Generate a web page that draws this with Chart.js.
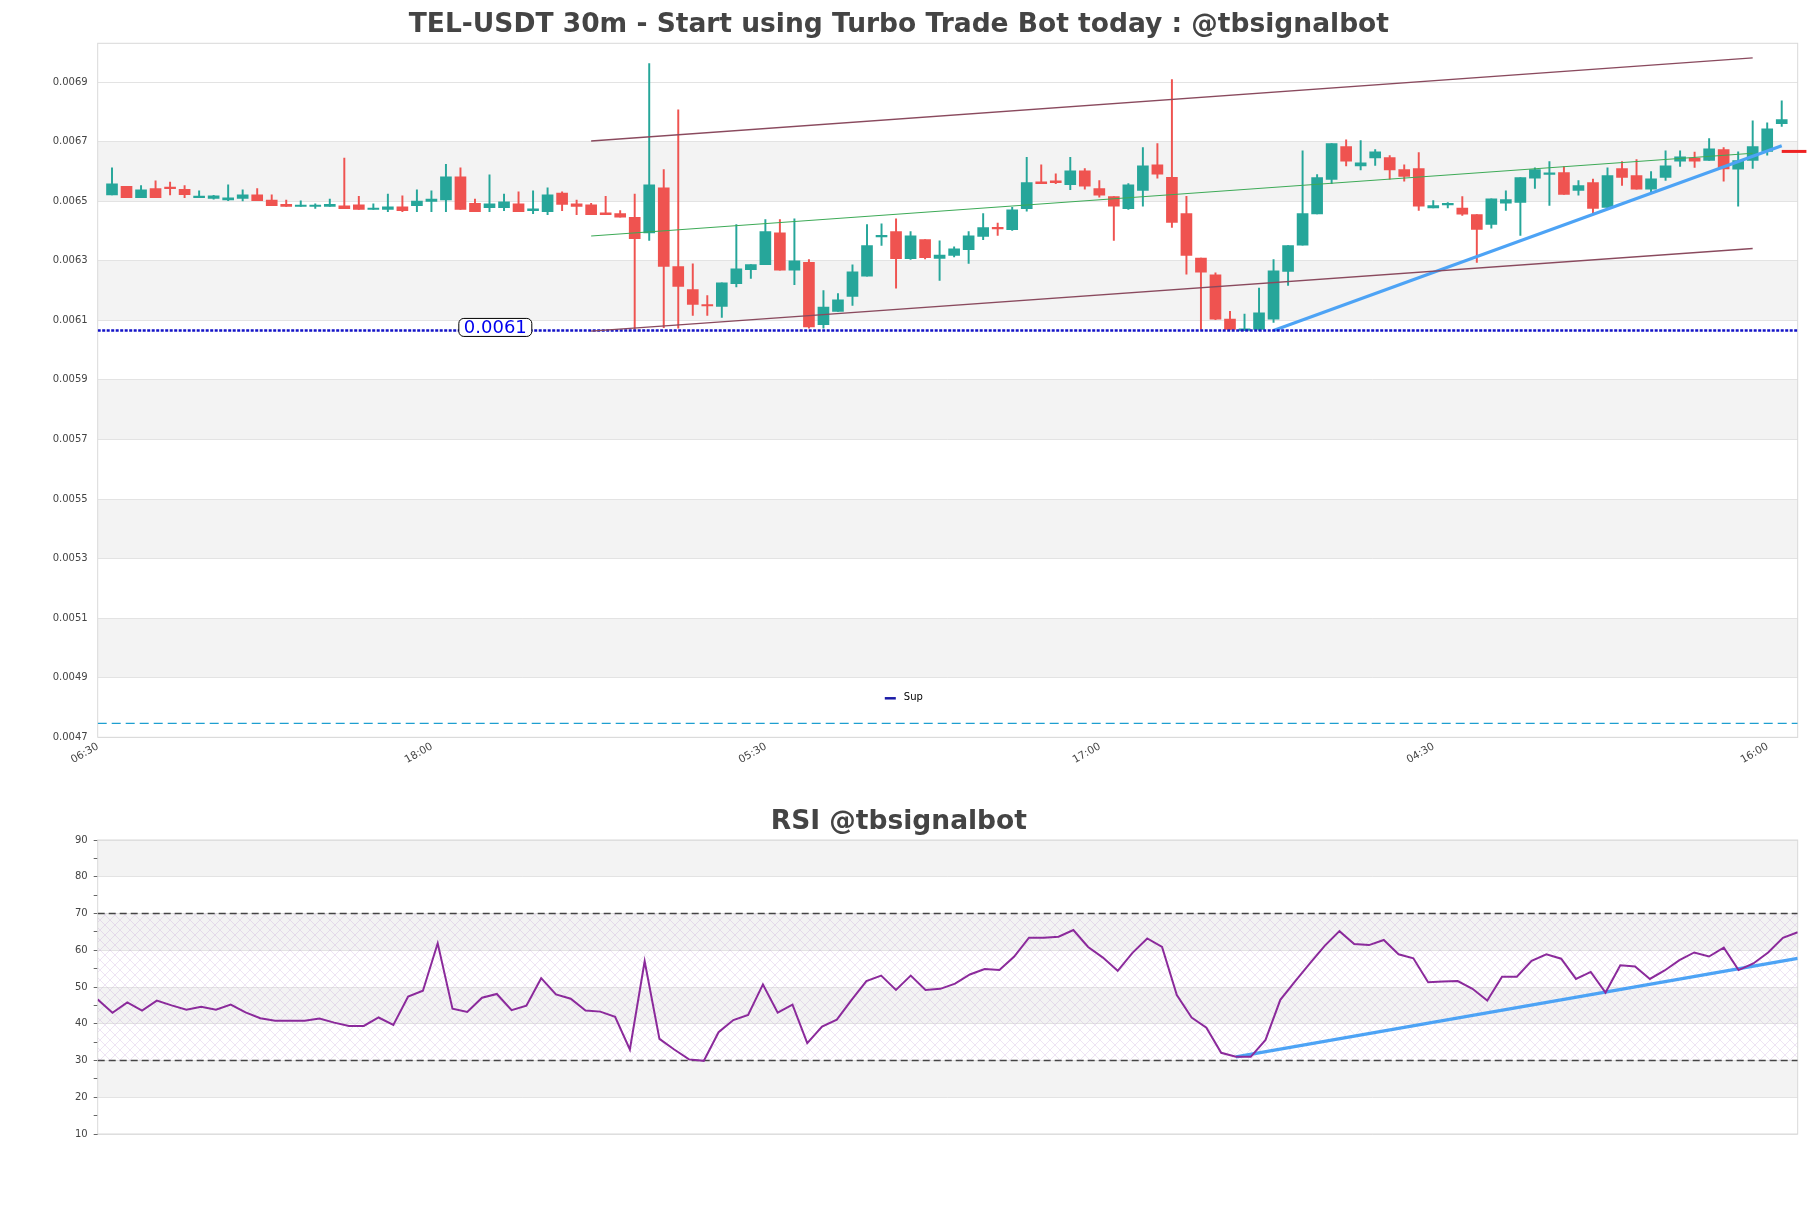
<!DOCTYPE html>
<html>
<head>
<meta charset="utf-8">
<script src="https://cdn.jsdelivr.net/npm/chart.js@4.4.1/dist/chart.umd.min.js"></script>
<style>
  html, body { margin: 0; padding: 0; background: #fff; }
  #wrap { position: relative; width: 1811px; height: 1208px; }
  #priceBox { position: absolute; left: 0; top: 0; width: 1811px; height: 800px; }
  #rsiBox { position: absolute; left: 0; top: 800px; width: 1811px; height: 408px; }
</style>
</head>
<body>
<div id="wrap">
  <div id="priceBox"><canvas id="priceChart"></canvas></div>
  <div id="rsiBox"><canvas id="rsiChart"></canvas></div>
</div>
<script>
// 30m candles
const opens = [
  0.006521, 0.006550, 0.006512, 0.006542, 0.006545, 0.006540, 0.006512, 0.006509, 0.006504, 0.006509,
  0.006521, 0.006504, 0.006489, 0.006482, 0.006482, 0.006482, 0.006484, 0.006488, 0.006472, 0.006472,
  0.006481, 0.006485, 0.006499, 0.006504, 0.006582, 0.006493, 0.006478, 0.006478, 0.006491, 0.006468,
  0.006465, 0.006527, 0.006491, 0.006488, 0.006461, 0.006458, 0.006446, 0.006393, 0.006545, 0.006280,
  0.006203, 0.006153, 0.006147, 0.006223, 0.006270, 0.006287, 0.006394, 0.006268, 0.006295, 0.006085,
  0.006130, 0.006180, 0.006248, 0.006380, 0.006398, 0.006307, 0.006371, 0.006308, 0.006318, 0.006337,
  0.006382, 0.006409, 0.006404, 0.006475, 0.006565, 0.006568, 0.006555, 0.006602, 0.006542, 0.006515,
  0.006475, 0.006536, 0.006622, 0.006580, 0.006458, 0.006309, 0.006253, 0.006104, 0.006066, 0.006069,
  0.006104, 0.006264, 0.006352, 0.006457, 0.006573, 0.006683, 0.006618, 0.006645, 0.006646, 0.006606,
  0.006609, 0.006477, 0.006487, 0.006477, 0.006455, 0.006422, 0.006493, 0.006496, 0.006577, 0.006590,
  0.006596, 0.006536, 0.006562, 0.006479, 0.006609, 0.006586, 0.006540, 0.006580, 0.006634, 0.006645,
  0.006637, 0.006673, 0.006607, 0.006637, 0.006667, 0.006760
];
const highs = [
  0.006612, 0.006550, 0.006552, 0.006568, 0.006564, 0.006552, 0.006535, 0.006520, 0.006555, 0.006538,
  0.006542, 0.006521, 0.006504, 0.006501, 0.006491, 0.006507, 0.006645, 0.006516, 0.006491, 0.006524,
  0.006518, 0.006538, 0.006535, 0.006624, 0.006612, 0.006507, 0.006588, 0.006524, 0.006531, 0.006535,
  0.006545, 0.006531, 0.006504, 0.006493, 0.006516, 0.006468, 0.006524, 0.006962, 0.006606, 0.006807,
  0.006290, 0.006183, 0.006226, 0.006421, 0.006287, 0.006438, 0.006438, 0.006441, 0.006304, 0.006200,
  0.006190, 0.006286, 0.006421, 0.006424, 0.006441, 0.006398, 0.006371, 0.006367, 0.006347, 0.006398,
  0.006458, 0.006426, 0.006479, 0.006647, 0.006622, 0.006592, 0.006647, 0.006609, 0.006569, 0.006515,
  0.006559, 0.006680, 0.006693, 0.006908, 0.006516, 0.006309, 0.006259, 0.006130, 0.006121, 0.006208,
  0.006304, 0.006351, 0.006669, 0.006589, 0.006693, 0.006706, 0.006703, 0.006673, 0.006653, 0.006622,
  0.006663, 0.006502, 0.006495, 0.006515, 0.006455, 0.006508, 0.006535, 0.006579, 0.006612, 0.006633,
  0.006616, 0.006569, 0.006574, 0.006612, 0.006633, 0.006640, 0.006599, 0.006669, 0.006669, 0.006665,
  0.006710, 0.006680, 0.006666, 0.006770, 0.006763, 0.006837
];
const lows = [
  0.006521, 0.006512, 0.006512, 0.006512, 0.006521, 0.006512, 0.006512, 0.006507, 0.006502, 0.006501,
  0.006502, 0.006485, 0.006482, 0.006482, 0.006476, 0.006482, 0.006475, 0.006472, 0.006472, 0.006465,
  0.006465, 0.006465, 0.006465, 0.006465, 0.006472, 0.006465, 0.006465, 0.006468, 0.006465, 0.006458,
  0.006455, 0.006468, 0.006455, 0.006455, 0.006455, 0.006446, 0.006070, 0.006368, 0.006075, 0.006074,
  0.006116, 0.006116, 0.006110, 0.006212, 0.006241, 0.006287, 0.006268, 0.006220, 0.006074, 0.006074,
  0.006130, 0.006150, 0.006248, 0.006351, 0.006208, 0.006304, 0.006306, 0.006234, 0.006313, 0.006291,
  0.006371, 0.006385, 0.006402, 0.006466, 0.006559, 0.006559, 0.006539, 0.006540, 0.006513, 0.006368,
  0.006472, 0.006483, 0.006577, 0.006412, 0.006255, 0.006069, 0.006102, 0.006069, 0.006066, 0.006066,
  0.006093, 0.006217, 0.006352, 0.006457, 0.006559, 0.006618, 0.006605, 0.006620, 0.006574, 0.006567,
  0.006469, 0.006477, 0.006477, 0.006452, 0.006294, 0.006409, 0.006469, 0.006385, 0.006543, 0.006486,
  0.006523, 0.006520, 0.006459, 0.006476, 0.006553, 0.006540, 0.006530, 0.006570, 0.006617, 0.006613,
  0.006637, 0.006567, 0.006483, 0.006610, 0.006654, 0.006751
];
const closes = [
  0.006558, 0.006512, 0.006538, 0.006512, 0.006542, 0.006522, 0.006515, 0.006518, 0.006511, 0.006521,
  0.006502, 0.006485, 0.006482, 0.006485, 0.006484, 0.006489, 0.006475, 0.006472, 0.006475, 0.006481,
  0.006468, 0.006500, 0.006507, 0.006582, 0.006472, 0.006465, 0.006491, 0.006498, 0.006465, 0.006474,
  0.006521, 0.006489, 0.006482, 0.006455, 0.006455, 0.006446, 0.006374, 0.006555, 0.006281, 0.006214,
  0.006153, 0.006148, 0.006226, 0.006273, 0.006287, 0.006398, 0.006268, 0.006300, 0.006078, 0.006144,
  0.006169, 0.006263, 0.006351, 0.006381, 0.006307, 0.006384, 0.006310, 0.006319, 0.006340, 0.006384,
  0.006411, 0.006407, 0.006471, 0.006562, 0.006559, 0.006562, 0.006602, 0.006550, 0.006520, 0.006483,
  0.006555, 0.006619, 0.006591, 0.006429, 0.006318, 0.006262, 0.006104, 0.006069, 0.006071, 0.006125,
  0.006266, 0.006351, 0.006458, 0.006579, 0.006693, 0.006634, 0.006629, 0.006666, 0.006605, 0.006583,
  0.006483, 0.006485, 0.006493, 0.006456, 0.006405, 0.006508, 0.006505, 0.006579, 0.006606, 0.006592,
  0.006523, 0.006552, 0.006476, 0.006586, 0.006580, 0.006540, 0.006575, 0.006619, 0.006649, 0.006634,
  0.006676, 0.006608, 0.006636, 0.006683, 0.006743, 0.006774
];

const rsiValues = [
  46.6, 43.0, 45.8, 43.6, 46.3, 45.0, 43.8, 44.6, 43.8, 45.2,
  43.1, 41.5, 40.8, 40.8, 40.8, 41.4, 40.3, 39.4, 39.4, 41.7,
  39.7, 47.4, 49.0, 61.9, 44.1, 43.2, 47.1, 48.1, 43.7, 44.9,
  52.4, 48.0, 46.8, 43.6, 43.3, 41.9, 33.0, 57.0, 35.9, 33.0,
  30.3, 29.9, 37.7, 41.0, 42.4, 50.7, 43.0, 45.2, 34.7, 39.2,
  41.1, 46.5, 51.6, 53.1, 49.2, 53.1, 49.2, 49.5, 50.9, 53.4,
  54.9, 54.6, 58.3, 63.4, 63.4, 63.7, 65.5, 60.9, 58.0, 54.4,
  59.3, 63.2, 60.9, 47.8, 41.7, 38.9, 32.1, 31.0, 31.0, 35.6,
  46.5, 51.5, 56.4, 61.2, 65.2, 61.7, 61.4, 62.8, 58.9, 57.8,
  51.3, 51.5, 51.6, 49.5, 46.3, 52.8, 52.8, 57.1, 58.9, 57.7,
  52.2, 54.1, 48.5, 55.9, 55.6, 52.2, 54.5, 57.3, 59.4, 58.3,
  60.7, 54.6, 56.4, 59.4, 63.4, 64.9
];

const timeLabels = ['06:30', '18:00', '05:30', '17:00', '04:30', '16:00'];
const timeTickIdx = [0, 23, 46, 69, 92, 115];
const priceTicks = [0.0047, 0.0049, 0.0051, 0.0053, 0.0055, 0.0057, 0.0059, 0.0061, 0.0063, 0.0065, 0.0067, 0.0069];
const rsiTicks = [10, 20, 30, 40, 50, 60, 70, 80, 90];

// drawn levels / trend lines
const channelX = [33, 113];
const channelUpper = [0.006702, 0.006981];
const channelMid = [0.006383, 0.006661];
const channelLower = [0.006064, 0.006341];
const trendX = [80, 115];
const trendY = [0.006066, 0.006686];
const supPrice = 0.006066;
const supLabelAt = 26.4;
const lowLevel = 0.004747;
const markPrice = 0.006667;
const markX = [115, 116.7];
const rsiTrendX = [77, 115];
const rsiTrendY = [31.0, 57.8];
const rsiLevels = [70, 30];

const X_MIN = -0.985, X_MAX = 116.1;
const GREEN = '#26a69a', RED = '#ef5350';

const idx = opens.map((_, i) => i);
const candleColors = idx.map(i => closes[i] >= opens[i] ? GREEN : RED);
const seg = (xs, ys) => xs.map((x, k) => ({ x: x, y: ys[k] }));

// white background + alternating bands between ticks
const bandsPlugin = {
    id: 'bands',
    beforeDraw(chart, args, opts) {
        const { ctx, chartArea: a, scales: { y } } = chart;
        ctx.save();
        ctx.fillStyle = '#fff';
        ctx.fillRect(0, 0, chart.width, chart.height);
        ctx.fillStyle = opts.color;
        for (let k = 1; k < opts.ticks.length - 1; k += 2) {
            const top = y.getPixelForValue(opts.ticks[k + 1]);
            const bot = y.getPixelForValue(opts.ticks[k]);
            ctx.fillRect(a.left, top, a.right - a.left, bot - top);
        }
        ctx.restore();
    },
    beforeDatasetsDraw(chart) {
        const { ctx, chartArea: a } = chart;
        ctx.save();
        ctx.strokeStyle = '#d9d9d9';
        ctx.lineWidth = 1;
        ctx.strokeRect(a.left, a.top, a.right - a.left, a.bottom - a.top);
        ctx.restore();
    }
};

// price label on the support line, plus the small "Sup" legend
const supPlugin = {
    id: 'supLabel',
    afterDraw(chart) {
        const { ctx, chartArea: a, scales: { x, y } } = chart;
        const px = x.getPixelForValue(supLabelAt);
        const py = y.getPixelForValue(supPrice);
        const text = supPrice.toFixed(4);
        ctx.save();
        ctx.font = '18px "DejaVu Sans"';
        const w = ctx.measureText(text).width + 10;
        ctx.beginPath();
        ctx.roundRect(px - w / 2, py - 12, w, 18, 5);
        ctx.fillStyle = '#fff';
        ctx.fill();
        ctx.strokeStyle = '#000';
        ctx.lineWidth = 1;
        ctx.stroke();
        ctx.fillStyle = '#0000ee';
        ctx.textAlign = 'center';
        ctx.textBaseline = 'middle';
        ctx.fillText(text, px, py - 2.5);

        const lx = a.left + 0.463 * (a.right - a.left);
        const ly = a.bottom - 39;
        ctx.strokeStyle = '#1a1aa6';
        ctx.lineWidth = 2.5;
        ctx.beginPath();
        ctx.moveTo(lx, ly);
        ctx.lineTo(lx + 11, ly);
        ctx.stroke();
        ctx.font = '10px "DejaVu Sans"';
        ctx.fillStyle = '#000';
        ctx.textAlign = 'left';
        ctx.fillText('Sup', lx + 19, ly - 1);
        ctx.restore();
    }
};

const lineDs = (label, data, color, width, extra) => Object.assign({
    type: 'line', label: label, data: data, borderColor: color, borderWidth: width,
    pointRadius: 0, fill: false, order: 0
}, extra || {});

new Chart(document.getElementById('priceChart'), {
    type: 'bar',
    data: {
        datasets: [
            {
                label: 'bodies',
                data: idx.map(i => ({ x: i, y: [opens[i], closes[i]] })),
                backgroundColor: candleColors,
                barThickness: 11,
                minBarLength: 1.5,
                grouped: false,
                order: 1
            },
            {
                label: 'wicks',
                data: idx.map(i => ({ x: i, y: [lows[i], highs[i]] })),
                backgroundColor: candleColors,
                barThickness: 1.3,
                grouped: false,
                order: 2
            },
            lineDs('upper', seg(channelX, channelUpper), '#8a4a5e', 1.3),
            lineDs('mid', seg(channelX, channelMid), '#3daa57', 1.1),
            lineDs('lower', seg(channelX, channelLower), '#8a4a5e', 1.3),
            lineDs('Sup', seg([X_MIN, X_MAX], [supPrice, supPrice]), '#1414c8', 2.5, { borderDash: [3, 1.5] }),
            lineDs('trend', seg(trendX, trendY), '#4da3f5', 3.2),
            lineDs('level', seg([X_MIN, X_MAX], [lowLevel, lowLevel]), '#1e9fd0', 1.3, { borderDash: [9, 5] }),
            lineDs('last', seg(markX, [markPrice, markPrice]), '#ee2222', 3, { clip: false })
        ]
    },
    options: {
        responsive: true,
        maintainAspectRatio: false,
        animation: false,
        devicePixelRatio: 1,
        layout: { padding: { left: 0, right: 13.3, top: 0, bottom: 0 } },
        plugins: {
            legend: { display: false },
            tooltip: { enabled: false },
            title: {
                display: true,
                text: 'TEL-USDT 30m - Start using Turbo Trade Bot today : @tbsignalbot',
                color: '#444',
                font: { family: 'DejaVu Sans', size: 26.5, weight: 'bold' },
                padding: { top: 9.3, bottom: 2.2 }
            },
            bands: { ticks: priceTicks, color: '#f3f3f3' }
        },
        scales: {
            x: {
                type: 'linear',
                min: X_MIN,
                max: X_MAX,
                offset: false,
                grid: { display: false },
                border: { display: false },
                afterBuildTicks: axis => { axis.ticks = timeTickIdx.map(v => ({ value: v })); },
                afterFit: s => { s.height = 62.7; },
                ticks: {
                    autoSkip: false,
                    minRotation: 30,
                    maxRotation: 30,
                    labelOffset: -14,
                    padding: -5,
                    color: '#444',
                    font: { family: 'DejaVu Sans', size: 10.5 },
                    callback: (v, i) => timeLabels[i]
                }
            },
            y: {
                min: 0.0047,
                max: 0.00703,
                grid: { color: '#e3e3e3', drawTicks: false },
                border: { display: false },
                afterBuildTicks: axis => { axis.ticks = priceTicks.map(v => ({ value: v })); },
                afterFit: s => { s.width = 97.7; },
                ticks: {
                    padding: 10,
                    color: '#444',
                    font: { family: 'DejaVu Sans', size: 10 },
                    callback: v => v.toFixed(4)
                }
            }
        }
    },
    plugins: [bandsPlugin, supPlugin]
});

function hatch() {
    const c = document.createElement('canvas');
    c.width = 10; c.height = 10;
    const g = c.getContext('2d');
    g.strokeStyle = 'rgba(175,125,200,0.30)';
    g.lineWidth = 0.7;
    g.beginPath();
    g.moveTo(0, 0); g.lineTo(10, 10);
    g.moveTo(10, 0); g.lineTo(0, 10);
    g.stroke();
    return g.createPattern(c, 'repeat');
}

new Chart(document.getElementById('rsiChart'), {
    type: 'line',
    data: {
        datasets: [
            lineDs('RSI', rsiValues.map((v, i) => ({ x: i, y: v })), '#8b2a9b', 2),
            lineDs('rsiTrend', seg(rsiTrendX, rsiTrendY), '#4da3f5', 3.2),
            lineDs('ob', seg([0, rsiValues.length - 1], [rsiLevels[0], rsiLevels[0]]), '#444', 1.3,
                { borderDash: [7, 4], fill: '+1', backgroundColor: hatch(), order: 1 }),
            lineDs('os', seg([0, rsiValues.length - 1], [rsiLevels[1], rsiLevels[1]]), '#444', 1.3,
                { borderDash: [7, 4], order: 1 })
        ]
    },
    options: {
        responsive: true,
        maintainAspectRatio: false,
        animation: false,
        devicePixelRatio: 1,
        layout: { padding: { left: 0, right: 13.3, top: 0, bottom: 74 } },
        plugins: {
            legend: { display: false },
            tooltip: { enabled: false },
            title: {
                display: true,
                text: 'RSI @tbsignalbot',
                color: '#444',
                font: { family: 'DejaVu Sans', size: 26.5, weight: 'bold' },
                padding: { top: 6.3, bottom: 1.9 }
            },
            bands: { ticks: rsiTicks, color: '#f3f3f3' }
        },
        scales: {
            x: { type: 'linear', min: 0, max: rsiValues.length - 1, display: false },
            y: {
                min: 10,
                max: 90,
                grid: {
                    color: c => c.tick && c.tick.value % 10 === 0 ? '#e3e3e3' : 'rgba(0,0,0,0)',
                    tickColor: '#666',
                    tickLength: 4
                },
                border: { display: false },
                afterFit: s => { s.width = 97.7; },
                ticks: {
                    stepSize: 5,
                    autoSkip: false,
                    padding: 6,
                    color: '#444',
                    font: { family: 'DejaVu Sans', size: 10 },
                    callback: v => v % 10 === 0 ? String(v) : ''
                }
            }
        }
    },
    plugins: [bandsPlugin]
});
</script>
</body>
</html>
